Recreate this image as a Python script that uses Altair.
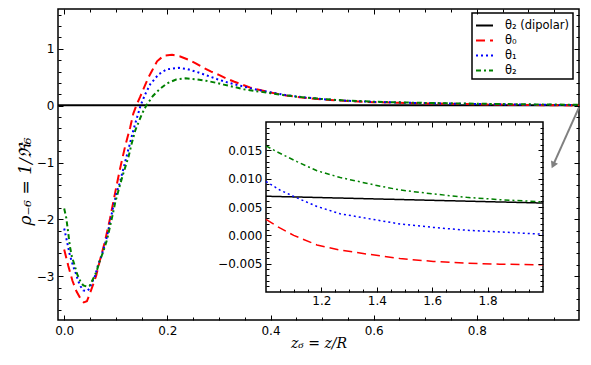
import altair as alt
import pandas as pd

# ---------------- data ----------------
keys = ["dip", "t0", "t1", "t2"]
labels = ["θ₂ (dipolar)", "θ₀", "θ₁", "θ₂"]
colors = ["black", "#ff0000", "#0000ff", "#008000"]
dashes = [[1, 0], [9, 5], [2, 3], [5, 3, 2, 3]]

black_x = [-0.012, 0.5, 1.0]
black_y = [0.0075, 0.0072, 0.0069]

red_x = [0.000, 0.008, 0.016, 0.024, 0.032, 0.038, 0.044, 0.050, 0.056, 0.062,
         0.069, 0.079, 0.089, 0.099, 0.108, 0.118, 0.128, 0.134, 0.141, 0.147,
         0.155, 0.163, 0.170, 0.180, 0.193, 0.209, 0.225, 0.240, 0.255, 0.270,
         0.285, 0.300, 0.315, 0.330, 0.345, 0.360, 0.375, 0.400, 0.430, 0.460,
         0.500, 0.550, 0.600, 0.650, 0.700, 0.800, 0.900, 1.000]
red_y = [-2.53, -2.82, -3.08, -3.27, -3.40, -3.46, -3.44, -3.30, -3.15, -2.99,
         -2.73, -2.39, -1.98, -1.52, -1.12, -0.72, -0.38, -0.14, 0.03, 0.15,
         0.32, 0.49, 0.61, 0.78, 0.88, 0.895, 0.865, 0.81, 0.745, 0.665,
         0.60, 0.54, 0.475, 0.42, 0.37, 0.32, 0.285, 0.23, 0.18, 0.145,
         0.11, 0.08, 0.062, 0.05, 0.04, 0.025, 0.012, 0.003]

blue_x = [0.000, 0.005, 0.011, 0.018, 0.023, 0.027, 0.032, 0.037, 0.044, 0.049,
          0.053, 0.060, 0.066, 0.071, 0.076, 0.083, 0.089, 0.095, 0.102, 0.107,
          0.115, 0.125, 0.135, 0.148, 0.157, 0.167, 0.183, 0.199, 0.222, 0.238,
          0.258, 0.277, 0.297, 0.316, 0.342, 0.368, 0.400, 0.430, 0.460, 0.500,
          0.550, 0.600, 0.650, 0.700, 0.800, 0.900, 1.000]
blue_y = [-2.16, -2.37, -2.63, -2.84, -2.96, -3.08, -3.18, -3.25, -3.26, -3.22,
          -3.13, -2.99, -2.79, -2.68, -2.53, -2.30, -2.04, -1.78, -1.52, -1.38,
          -1.10, -0.75, -0.40, 0.0, 0.20, 0.38, 0.55, 0.64, 0.665, 0.645,
          0.59, 0.53, 0.465, 0.41, 0.35, 0.29, 0.235, 0.185, 0.15, 0.115,
          0.085, 0.066, 0.054, 0.044, 0.029, 0.017, 0.0095]

green_x = [0.000, 0.004, 0.008, 0.011, 0.015, 0.020, 0.025, 0.032, 0.037, 0.043,
           0.049, 0.056, 0.063, 0.069, 0.076, 0.083, 0.092, 0.099, 0.108, 0.115,
           0.125, 0.131, 0.138, 0.151, 0.159, 0.172, 0.185, 0.199, 0.217, 0.235,
           0.254, 0.274, 0.293, 0.309, 0.329, 0.348, 0.368, 0.400, 0.430, 0.460,
           0.500, 0.550, 0.600, 0.650, 0.700, 0.800, 0.900, 1.000]
green_y = [-1.81, -1.97, -2.25, -2.47, -2.66, -2.80, -2.96, -3.10, -3.16, -3.18,
           -3.17, -3.05, -2.91, -2.73, -2.56, -2.36, -2.00, -1.70, -1.40, -1.18,
           -0.89, -0.66, -0.43, -0.14, 0.0, 0.17, 0.29, 0.39, 0.46, 0.48,
           0.465, 0.44, 0.405, 0.37, 0.33, 0.29, 0.26, 0.22, 0.18, 0.15,
           0.117, 0.088, 0.07, 0.058, 0.048, 0.034, 0.023, 0.016]

# inset (z6 from 1 to 2)
ik_x = [1.0, 1.5, 2.0]
ik_y = [0.0069, 0.0063, 0.0057]
ir_x = [1.0, 1.05, 1.10, 1.184, 1.268, 1.364, 1.484, 1.604, 1.724, 1.844, 2.0]
ir_y = [0.0028, 0.0013, 0.0000, -0.0017, -0.0026, -0.0033, -0.0041, -0.0046, -0.0049, -0.0051, -0.0052]
ib_x = [1.0, 1.05, 1.112, 1.184, 1.268, 1.364, 1.484, 1.604, 1.724, 1.844, 2.0]
ib_y = [0.0095, 0.0080, 0.0066, 0.0051, 0.0038, 0.0030, 0.0020, 0.0014, 0.0009, 0.0006, 0.0002]
ig_x = [1.0, 1.037, 1.112, 1.184, 1.268, 1.400, 1.484, 1.604, 1.724, 1.844, 2.0]
ig_y = [0.0158, 0.0148, 0.0130, 0.0114, 0.0102, 0.0088, 0.0080, 0.0073, 0.0067, 0.0063, 0.0059]

# axes ticks / labels
x_major = [0.0, 0.2, 0.4, 0.6, 0.8]
x_minor = [0.05, 0.1, 0.15, 0.25, 0.3, 0.35, 0.45, 0.5, 0.55, 0.65, 0.7, 0.75, 0.85, 0.9, 0.95]
y_major = [-3, -2, -1, 0, 1]
y_minor = [-3.6, -3.4, -3.2, -2.8, -2.6, -2.4, -2.2, -1.8, -1.6, -1.4, -1.2,
           -0.8, -0.6, -0.4, -0.2, 0.2, 0.4, 0.6, 0.8, 1.2, 1.4, 1.6]
ix_major = [1.2, 1.4, 1.6, 1.8]
ix_minor = [1.05, 1.1, 1.15, 1.25, 1.3, 1.35, 1.45, 1.5, 1.55, 1.65, 1.7, 1.75, 1.85, 1.9, 1.95]
iy_major = [-0.005, 0.0, 0.005, 0.01, 0.015]
iy_minor = [round(-0.009 + 0.001 * i, 3) for i in range(29)]
iy_minor = [v for v in iy_minor if v not in iy_major]

X_MAIN = [-0.012, 0.998]
Y_MAIN = [-3.77, 1.70]
X_INSET = [1.0, 2.0]
Y_INSET = [-0.01, 0.02]

# arrow annotation (data coordinates of the main panel)
arrow_from = (0.998, -0.03)
arrow_to = (0.9487, -1.03)

# ---------------- layout ----------------
W, H = 521, 311
IX0, IX1 = 208, 485      # inset left / right (px inside plot)
IY_TOP, IY_BOT = 113, 283
SANS = "DejaVu Sans"
SERIF = "DejaVu Serif"


def long_df(series):
    rows = []
    for key, xs, ys in series:
        for a, b in zip(xs, ys):
            rows.append({"s": key, "x": a, "y": b})
    return pd.DataFrame(rows)


main_df = long_df([("dip", black_x, black_y), ("t0", red_x, red_y),
                   ("t1", blue_x, blue_y), ("t2", green_x, green_y)])
inset_df = long_df([("dip", ik_x, ik_y), ("t0", ir_x, ir_y),
                    ("t1", ib_x, ib_y), ("t2", ig_x, ig_y)])

xs_main = alt.Scale(domain=X_MAIN, nice=False, zero=False)
ys_main = alt.Scale(domain=Y_MAIN, nice=False, zero=False)
xs_in = alt.Scale(domain=X_INSET, range=[IX0, IX1], nice=False, zero=False)
ys_in = alt.Scale(domain=Y_INSET, range=[IY_BOT, IY_TOP], nice=False, zero=False)
color_scale = alt.Scale(domain=keys, range=colors)
dash_scale = alt.Scale(domain=keys, range=dashes)

label_expr = "{" + ",".join(f"'{k}':'{l}'" for k, l in zip(keys, labels)) + "}[datum.value]"
legend = alt.Legend(title=None, orient="none", legendX=414, legendY=4,
                    symbolType="stroke", symbolSize=289, symbolStrokeWidth=2,
                    labelExpr=label_expr, labelFont=SANS, labelFontSize=11.5,
                    labelColor="black", labelOffset=11, rowPadding=0, padding=3,
                    strokeColor="black", fillColor="white", cornerRadius=0)


def label_axis(orient, values, fmt, pad, offset=0, **kw):
    return alt.Axis(orient=orient, offset=offset, values=values, format=fmt,
                    ticks=False, domain=False, grid=False, labelFont=SANS,
                    labelFontSize=12, labelColor="black", labelPadding=pad,
                    labelFlush=False, labelOverlap=False, **kw)


def tick_axis(orient, offset, values, size):
    return alt.Axis(orient=orient, offset=offset, values=values, tickSize=size,
                    ticks=True, labels=False, domain=False, grid=False, title=None,
                    tickColor="black", tickWidth=1, zindex=1)


def tick_layer(df, xsc, ysc, xaxis, yaxis):
    return alt.Chart(df).mark_point(opacity=0).encode(
        x=alt.X("x:Q", scale=xsc, axis=xaxis),
        y=alt.Y("y:Q", scale=ysc, axis=yaxis),
    )


# ---------------- main panel ----------------
main_lines = alt.Chart(main_df).mark_line(clip=True, strokeWidth=2).encode(
    x=alt.X("x:Q", scale=xs_main,
            axis=label_axis("bottom", x_major, ".1f", 5,
                            title="z₆ = z/R", titleFont=SERIF, titleFontStyle="italic",
                            titleFontSize=14, titleFontWeight="normal", titleColor="black",
                            titleY=23, titleBaseline="middle")),
    y=alt.Y("y:Q", scale=ys_main,
            axis=label_axis("left", y_major, "d", 4,
                            title="ρ₋₆ = 1/ℜ₆", titleFont=SERIF, titleFontStyle="italic",
                            titleFontSize=17, titleFontWeight="normal", titleColor="black",
                            titleX=-33, titleY=172, titleAngle=270, titleBaseline="middle")),
    color=alt.Color("s:N", scale=color_scale, legend=legend),
    strokeDash=alt.StrokeDash("s:N", scale=dash_scale, legend=legend),
)

arrow_df = pd.DataFrame({"x0": [arrow_from[0]], "y0": [arrow_from[1]],
                         "x1": [arrow_to[0]], "y1": [arrow_to[1]]})
arrow_rule = alt.Chart(arrow_df).mark_rule(color="#808080", strokeWidth=2).encode(
    x=alt.X("x0:Q", scale=xs_main, axis=None), y=alt.Y("y0:Q", scale=ys_main, axis=None),
    x2="x1:Q", y2="y1:Q")
arrow_head = alt.Chart(arrow_df).mark_point(shape="triangle", filled=True, size=60, angle=205,
                                            color="#808080", opacity=1).encode(
    x=alt.X("x1:Q", scale=xs_main, axis=None), y=alt.Y("y1:Q", scale=ys_main, axis=None))

main = alt.layer(
    main_lines,
    tick_layer(main_df, xs_main, ys_main, tick_axis("top", -H, x_major, 5), tick_axis("right", -W, y_major, 5)),
    tick_layer(main_df, xs_main, ys_main, tick_axis("bottom", -H, x_major, 5), tick_axis("left", -W, y_major, 5)),
    tick_layer(main_df, xs_main, ys_main, tick_axis("top", -H, x_minor, 3), tick_axis("right", -W, y_minor, 3)),
    tick_layer(main_df, xs_main, ys_main, tick_axis("bottom", -H, x_minor, 3), tick_axis("left", -W, y_minor, 3)),
    arrow_rule, arrow_head,
).resolve_axis(x="independent", y="independent")

# ---------------- inset ----------------
bg_df = pd.DataFrame({"x0": [X_INSET[0]], "x1": [X_INSET[1]], "y0": [Y_INSET[0]], "y1": [Y_INSET[1]]})
inset_bg = alt.Chart(bg_df).mark_rect(fill="white", stroke="black", strokeWidth=1.5).encode(
    x=alt.X("x0:Q", scale=xs_in, axis=None), x2="x1:Q",
    y=alt.Y("y0:Q", scale=ys_in, axis=None), y2="y1:Q")

inset_lines = alt.Chart(inset_df).mark_line(strokeWidth=1.5).encode(
    x=alt.X("x:Q", scale=xs_in, axis=label_axis("bottom", ix_major, ".1f", 3, offset=IY_BOT - H, title=None)),
    y=alt.Y("y:Q", scale=ys_in, axis=label_axis("left", iy_major, ".3f", 4, offset=-IX0, title=None)),
    color=alt.Color("s:N", scale=color_scale, legend=None),
    strokeDash=alt.StrokeDash("s:N", scale=dash_scale, legend=None),
)

inset = alt.layer(
    inset_bg, inset_lines,
    tick_layer(inset_df, xs_in, ys_in, tick_axis("top", -IY_BOT, ix_major, 5), tick_axis("right", IX0 - W, iy_major, 5)),
    tick_layer(inset_df, xs_in, ys_in, tick_axis("bottom", IY_TOP - H, ix_major, 5), tick_axis("left", -IX1, iy_major, 5)),
    tick_layer(inset_df, xs_in, ys_in, tick_axis("top", -IY_BOT, ix_minor, 3), tick_axis("right", IX0 - W, iy_minor, 3)),
    tick_layer(inset_df, xs_in, ys_in, tick_axis("bottom", IY_TOP - H, ix_minor, 3), tick_axis("left", -IX1, iy_minor, 3)),
).resolve_axis(x="independent", y="independent")

chart = alt.layer(main, inset).resolve_scale(
    x="independent", y="independent", color="independent", strokeDash="independent"
).properties(
    width=W, height=H,
    autosize=alt.AutoSizeParams(type="none"),
    padding={"left": 50, "top": 1, "right": 4, "bottom": 30},
).configure_view(stroke="black", strokeWidth=1.5).configure_legend(strokeWidth=1.5)

chart.save("out.html", embed_options={"renderer": "svg", "actions": False})
